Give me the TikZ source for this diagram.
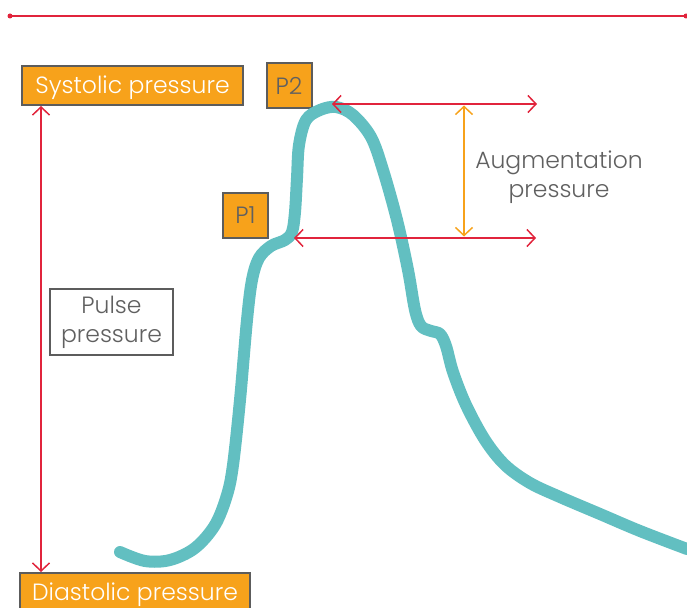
\documentclass[tikz,border=0pt]{standalone}
\usepackage{fontspec}
\setmainfont{Poppins Light}
\usetikzlibrary{arrows.meta}
\definecolor{orng}{HTML}{F7A21B}
\definecolor{bord}{HTML}{5C5C5C}
\definecolor{redl}{HTML}{E1243C}
\definecolor{teal}{HTML}{62BFC1}
\definecolor{txtg}{HTML}{606060}
\tikzset{
  lbl/.style={draw=bord, line width=2pt, inner sep=0pt, font=\fontsize{23.5}{29}\selectfont},
  orangebox/.style={lbl, fill=orng, text=white, text height=16.5pt, text depth=0pt},
  pbox/.style={lbl, fill=orng, text=txtg, minimum width=45pt, minimum height=45pt, text height=16.5pt, text depth=0pt},
  whitebox/.style={lbl, fill=white, text=txtg, align=center},
  redarrow/.style={draw=redl, line width=1.5pt, {Straight Barb[length=8pt,width=17pt]}-{Straight Barb[length=8pt,width=17pt]}},
  orangearrow/.style={draw=orng, line width=1.5pt, {Straight Barb[length=8pt,width=17pt]}-{Straight Barb[length=8pt,width=17pt]}},
  wave/.style={draw=teal, line width=12pt, line cap=round, line join=round}
}
\begin{document}
\begin{tikzpicture}[x=1pt,y=-1pt]
\useasboundingbox (0,0) rectangle (687,607);
\clip (0,0) rectangle (687,607);
% top rule
\coordinate (tl) at (10,16);
\coordinate (tr) at (686,16);
\draw[redl, line width=1.2pt] (tl) -- (tr);
\fill[redl] (tl) circle (2.5pt) (tr) circle (2.5pt);
% boxes
\node[orangebox, minimum width=221pt, minimum height=39pt] (sys) at (132.5,85.5) {Systolic pressure};
\node[pbox] (p2) at (289,86) {P2};
\node[pbox] (p1) at (245.5,215.5) {P1};
\node[whitebox, minimum width=123pt, minimum height=66pt] (pulse) at (111.5,322) {Pulse\\pressure};
\node[orangebox, minimum width=230pt, minimum height=39pt] (dia) at (135,592.5) {Diastolic pressure};
\node[text=txtg, align=center, font=\fontsize{23.5}{29}\selectfont] (aug) at (559,177) {Augmentation\\pressure};
% wave
\draw[wave] plot[smooth, tension=0.55] coordinates {
 (120,552) (145,561) (170,560) (195,548) (215,525) (227,495) (233,465)
 (240,400) (247,320) (252,280) (259,258) (271,246) (285,240) (292,232)
 (295,212) (297,178) (299,145) (306,120) (320,110) (336,107) (353,115)
 (371,137) (383,170) (397,220) (408,270) (415,310) (421,326) (431,331)
 (440,334) (446,346) (453,372) (466,405) (485,440) (505,465) (530,483)
 (560,497) (600,514) (640,531) (687,549)};
% arrows
\coordinate (pa) at (41,0);
\draw[redarrow] (sys.south -| pa) -- (dia.north -| pa);
\coordinate (t1) at (332,104);
\coordinate (t2) at (537,104);
\coordinate (b1) at (294,238);
\coordinate (b2) at (536,238);
\draw[redarrow] (t1) -- (t2);
\draw[redarrow] (b1) -- (b2);
\coordinate (o1) at (464,105.5);
\coordinate (o2) at (464,236.5);
\draw[orangearrow] (o1) -- (o2);
\end{tikzpicture}
\end{document}
